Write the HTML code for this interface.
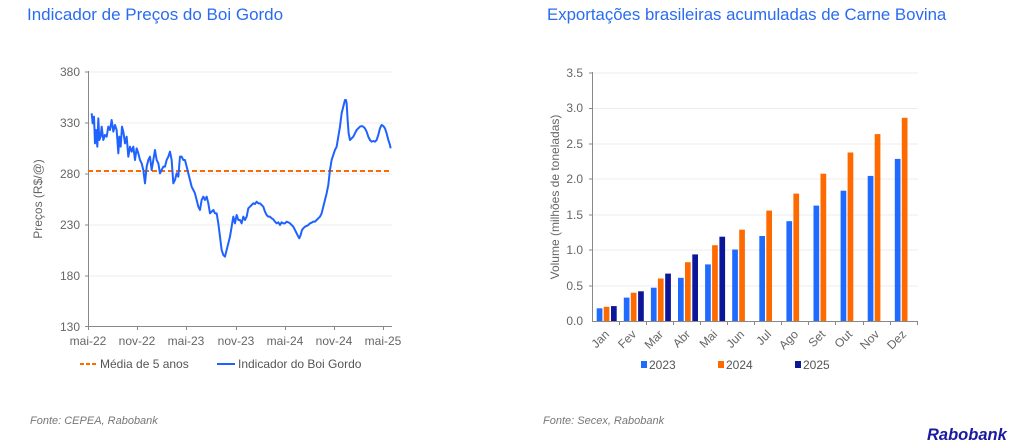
<!DOCTYPE html>
<html><head><meta charset="utf-8"><style>
html,body{margin:0;padding:0;background:#fff;}
svg{display:block;font-family:"Liberation Sans",sans-serif;}
</style></head><body>
<svg width="1024" height="444" viewBox="0 0 1024 444" xmlns="http://www.w3.org/2000/svg">
<text x="27" y="20" font-size="17" fill="#2a6cf0">Indicador de Preços do Boi Gordo</text>
<text x="547" y="20" font-size="16.8" fill="#2a6cf0">Exportações brasileiras acumuladas de Carne Bovina</text>

<!-- LEFT CHART -->
<g stroke="#ececec" stroke-width="1">
<line x1="88" y1="72" x2="392" y2="72"/><line x1="88" y1="123" x2="392" y2="123"/>
<line x1="88" y1="174" x2="392" y2="174"/><line x1="88" y1="225" x2="392" y2="225"/>
<line x1="88" y1="276" x2="392" y2="276"/>
</g>
<g stroke="#888" stroke-width="1">
<line x1="88.5" y1="71" x2="88.5" y2="327"/><line x1="88" y1="326.5" x2="392" y2="326.5"/>
<line x1="85" y1="72" x2="88" y2="72"/><line x1="85" y1="123" x2="88" y2="123"/><line x1="85" y1="174" x2="88" y2="174"/><line x1="85" y1="225" x2="88" y2="225"/><line x1="85" y1="276" x2="88" y2="276"/><line x1="85" y1="326.5" x2="88" y2="326.5"/>
<line x1="88.5" y1="327" x2="88.5" y2="330"/><line x1="137.5" y1="327" x2="137.5" y2="330"/><line x1="186.5" y1="327" x2="186.5" y2="330"/><line x1="236.5" y1="327" x2="236.5" y2="330"/><line x1="285.5" y1="327" x2="285.5" y2="330"/><line x1="334.5" y1="327" x2="334.5" y2="330"/><line x1="383.5" y1="327" x2="383.5" y2="330"/>
</g>
<g font-size="12" fill="#666" text-anchor="end">
<text x="80" y="76">380</text><text x="80" y="127">330</text><text x="80" y="178">280</text><text x="80" y="229">230</text><text x="80" y="280">180</text><text x="80" y="331">130</text>
</g>
<g font-size="12" fill="#666" text-anchor="middle">
<text x="88" y="345">mai-22</text><text x="137" y="345">nov-22</text><text x="186" y="345">mai-23</text><text x="236" y="345">nov-23</text><text x="285" y="345">mai-24</text><text x="334" y="345">nov-24</text><text x="383" y="345">mai-25</text>
</g>
<text transform="translate(42,199) rotate(-90)" font-size="12" fill="#666" text-anchor="middle">Preços (R$/@)</text>
<line x1="88" y1="171" x2="392" y2="171" stroke="#ff6a00" stroke-width="2" stroke-dasharray="5,3"/>
<g transform="translate(20,60) scale(0.3333)">
<polyline fill="none" stroke="#1f62ff" stroke-width="6" stroke-linejoin="round" points="215,160 218,190 222,170 225,250 228,210 232,260 235,175 238,240 242,230 245,200 250,240 255,225 260,230 265,200 270,210 275,180 280,215 285,195 290,210 295,280 298,230 302,260 306,200 310,215 315,250 320,230 325,290 330,260 335,275 340,260 345,300 350,265 355,280 360,300 365,310 370,330 375,370 380,320 385,300 390,290 395,330 400,300 405,270 410,300 415,310 420,340 425,330 430,320 435,320 440,300 445,290 450,275 455,300 460,370 465,360 470,340 475,350 480,290 485,290 490,300 495,300 500,320 505,340 510,360 515,380 520,390 525,400 530,420 535,440 540,450 545,420 550,410 555,420 560,410 565,430 570,460 575,455 580,450 585,460 590,460 595,490 600,530 605,570 610,585 615,590 620,570 625,550 630,530 635,500 640,470 645,490 650,465 655,480 660,480 665,490 670,470 675,480 680,470 685,445 690,440 695,435 700,430 705,432 710,425 715,430 720,430 725,435 730,440 735,455 740,465 745,470 750,470 755,475 760,478 765,485 770,490 775,487 780,495 785,487 790,490 795,490 800,485 805,487 810,490 815,495 820,500 825,510 830,520 835,530 838,535 842,525 846,510 850,505 855,500 860,498 865,495 870,490 875,488 880,485 885,485 890,480 895,475 900,470 905,460 910,440 915,420 920,400 925,375 930,330 935,300 940,285 945,270 950,260 955,230 960,200 965,160 970,140 975,120 978,120 980,130 983,180 986,220 990,240 995,235 1000,230 1005,220 1010,210 1015,205 1020,200 1025,198 1030,200 1035,205 1040,215 1045,230 1050,240 1055,245 1060,243 1065,245 1070,240 1075,225 1080,205 1085,195 1090,198 1095,205 1100,220 1105,240 1110,255 1112,265"/>
</g>
<line x1="80" y1="364" x2="97" y2="364" stroke="#ff6a00" stroke-width="2" stroke-dasharray="4,2"/>
<text x="100" y="368" font-size="12" fill="#555">Média de 5 anos</text>
<line x1="217" y1="364" x2="235" y2="364" stroke="#1f62ff" stroke-width="2"/>
<text x="238" y="368" font-size="12" fill="#555">Indicador do Boi Gordo</text>
<text x="30" y="424" font-size="11" font-style="italic" fill="#777">Fonte: CEPEA, Rabobank</text>

<!-- RIGHT CHART -->
<g stroke="#ececec" stroke-width="1">
<line x1="592" y1="73" x2="918" y2="73"/><line x1="592" y1="108.5" x2="918" y2="108.5"/><line x1="592" y1="144" x2="918" y2="144"/><line x1="592" y1="179" x2="918" y2="179"/><line x1="592" y1="215" x2="918" y2="215"/><line x1="592" y1="250" x2="918" y2="250"/><line x1="592" y1="286" x2="918" y2="286"/>
</g>
<g font-size="12" fill="#666" text-anchor="end">
<text x="583" y="77">3.5</text><text x="583" y="112">3.0</text><text x="583" y="148">2.5</text><text x="583" y="183">2.0</text><text x="583" y="219">1.5</text><text x="583" y="254">1.0</text><text x="583" y="290">0.5</text><text x="583" y="325">0.0</text>
</g>
<text transform="translate(559,197) rotate(-90)" font-size="12" fill="#666" text-anchor="middle">Volume (milhões de toneladas)</text>
<g fill="#1f6bff">
<rect x="596.7" y="308.3" width="5.7" height="12.7"/><rect x="623.8" y="297.6" width="5.7" height="23.4"/><rect x="650.9" y="287.7" width="5.7" height="33.3"/><rect x="678" y="277.8" width="5.7" height="43.2"/><rect x="705.1" y="264.4" width="5.7" height="56.6"/><rect x="732.2" y="249.5" width="5.7" height="71.5"/><rect x="759.3" y="236" width="5.7" height="85"/><rect x="786.4" y="221.2" width="5.7" height="99.8"/><rect x="813.5" y="205.6" width="5.7" height="115.4"/><rect x="840.6" y="190.7" width="5.7" height="130.3"/><rect x="867.7" y="175.9" width="5.7" height="145.1"/><rect x="894.8" y="158.9" width="5.7" height="162.1"/>
</g>
<g fill="#ff6a00">
<rect x="603.7" y="306.8" width="5.7" height="14.2"/><rect x="630.8" y="292.7" width="5.7" height="28.3"/><rect x="657.9" y="278.5" width="5.7" height="42.5"/><rect x="685" y="262.2" width="5.7" height="58.8"/><rect x="712.1" y="245.2" width="5.7" height="75.8"/><rect x="739.2" y="229.7" width="5.7" height="91.3"/><rect x="766.3" y="210.6" width="5.7" height="110.4"/><rect x="793.4" y="193.6" width="5.7" height="127.4"/><rect x="820.5" y="173.7" width="5.7" height="147.3"/><rect x="847.6" y="152.5" width="5.7" height="168.5"/><rect x="874.7" y="134.1" width="5.7" height="186.9"/><rect x="901.8" y="117.8" width="5.7" height="203.2"/>
</g>
<g fill="#0b1699">
<rect x="611" y="306.1" width="5.7" height="14.9"/><rect x="638.1" y="291.3" width="5.7" height="29.7"/><rect x="665.2" y="273.6" width="5.7" height="47.4"/><rect x="692.3" y="254.4" width="5.7" height="66.6"/><rect x="719.4" y="236.7" width="5.7" height="84.3"/>
</g>
<g stroke="#888" stroke-width="1">
<line x1="592.5" y1="72" x2="592.5" y2="321"/><line x1="592" y1="321.5" x2="918" y2="321.5"/>
<line x1="589" y1="73" x2="592" y2="73"/><line x1="589" y1="108.5" x2="592" y2="108.5"/><line x1="589" y1="144" x2="592" y2="144"/><line x1="589" y1="179" x2="592" y2="179"/><line x1="589" y1="215" x2="592" y2="215"/><line x1="589" y1="250" x2="592" y2="250"/><line x1="589" y1="286" x2="592" y2="286"/>
<line x1="619.5" y1="321" x2="619.5" y2="325"/><line x1="646.5" y1="321" x2="646.5" y2="325"/><line x1="673.5" y1="321" x2="673.5" y2="325"/><line x1="700.5" y1="321" x2="700.5" y2="325"/><line x1="727.5" y1="321" x2="727.5" y2="325"/><line x1="754.5" y1="321" x2="754.5" y2="325"/><line x1="781.5" y1="321" x2="781.5" y2="325"/><line x1="808.5" y1="321" x2="808.5" y2="325"/><line x1="835.5" y1="321" x2="835.5" y2="325"/><line x1="863.5" y1="321" x2="863.5" y2="325"/><line x1="890.5" y1="321" x2="890.5" y2="325"/><line x1="917.5" y1="321" x2="917.5" y2="325"/>
</g>
<g font-size="12" fill="#666" text-anchor="end">
<text transform="translate(610,335) rotate(-45)">Jan</text>
<text transform="translate(637,335) rotate(-45)">Fev</text>
<text transform="translate(664,335) rotate(-45)">Mar</text>
<text transform="translate(691,335) rotate(-45)">Abr</text>
<text transform="translate(718,335) rotate(-45)">Mai</text>
<text transform="translate(745,335) rotate(-45)">Jun</text>
<text transform="translate(772,335) rotate(-45)">Jul</text>
<text transform="translate(799,335) rotate(-45)">Ago</text>
<text transform="translate(826,335) rotate(-45)">Set</text>
<text transform="translate(853,335) rotate(-45)">Out</text>
<text transform="translate(880,335) rotate(-45)">Nov</text>
<text transform="translate(907,335) rotate(-45)">Dez</text>
</g>
<rect x="641" y="361" width="6" height="7" fill="#1f6bff"/><text x="649" y="369" font-size="12" fill="#555">2023</text>
<rect x="718" y="361" width="6" height="7" fill="#ff6a00"/><text x="726" y="369" font-size="12" fill="#555">2024</text>
<rect x="795" y="361" width="6" height="7" fill="#0b1699"/><text x="803" y="369" font-size="12" fill="#555">2025</text>
<text x="543" y="424" font-size="11" font-style="italic" fill="#777">Fonte: Secex, Rabobank</text>
<text x="927" y="440" font-size="16.5" font-weight="bold" font-style="italic" fill="#1a1aa0">Rabobank</text>
</svg>
</body></html>
